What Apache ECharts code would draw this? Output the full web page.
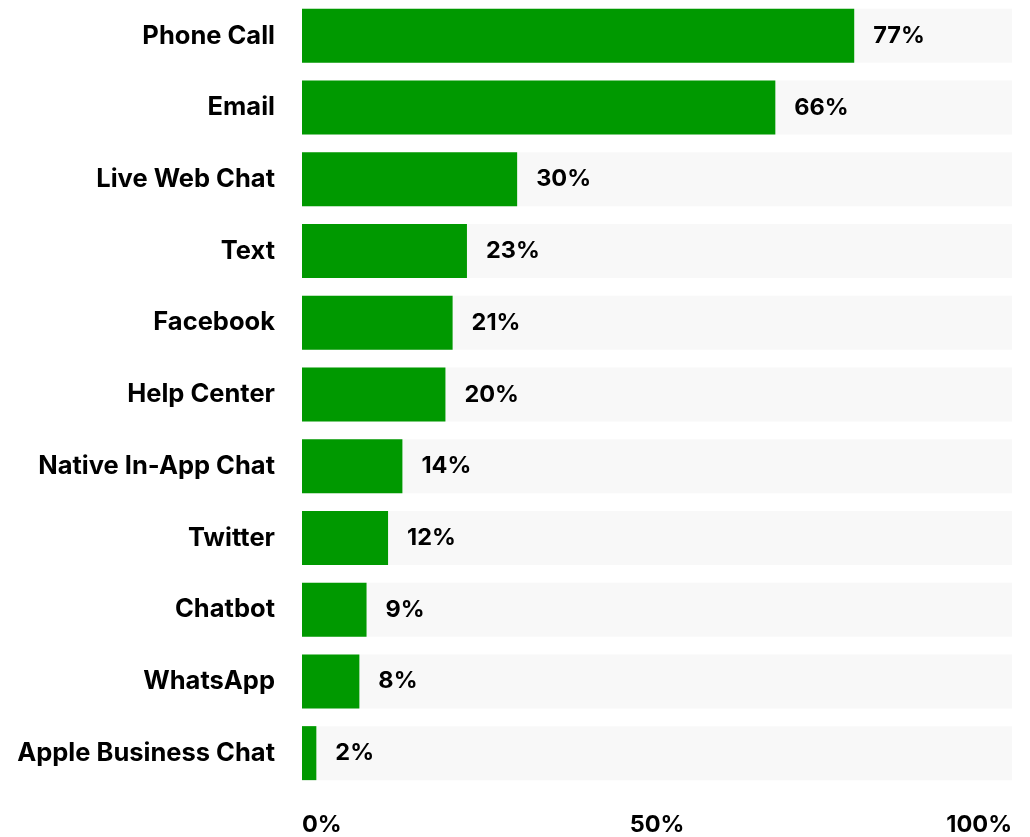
<!DOCTYPE html>
<html>
<head>
<meta charset="utf-8">
<script src="https://cdn.jsdelivr.net/npm/echarts@6/dist/echarts.min.js"></script>
<style>
html,body{margin:0;padding:0;background:#fff;}
#chart{width:1030px;height:837px;}
</style>
</head>
<body>
<div id="chart"></div>
<script>
const categories = ["Phone Call","Email","Live Web Chat","Text","Facebook","Help Center","Native In-App Chat","Twitter","Chatbot","WhatsApp","Apple Business Chat"];
const values = [77,66,30,23,21,20,14,12,9,8,2];
const tickLabels = ["0%","50%","100%"];

const FONT = 'Inter';
const chart = echarts.init(document.getElementById('chart'));
chart.setOption({
  animation:false,
  grid:{left:302,right:18,top:-1,height:792,containLabel:false},
  xAxis:[
    {type:'value',min:0,max:99,show:false},
    {type:'value',min:0,max:100,interval:50,position:'bottom',
     axisLine:{show:false},axisTick:{show:false},splitLine:{show:false},
     axisLabel:{margin:24,fontFamily:FONT,fontWeight:700,fontSize:23.5,color:'#000',
       alignMinLabel:'left',alignMaxLabel:'right',
       formatter:(v)=>tickLabels[Math.round(v/50)]}}
  ],
  yAxis:{type:'category',data:categories,inverse:true,
    axisLine:{show:false},axisTick:{show:false},splitLine:{show:false},
    axisLabel:{margin:27,fontFamily:FONT,fontWeight:700,fontSize:25.5,color:'#000'}},
  series:[{
    type:'bar',xAxisIndex:0,data:values,barWidth:54,
    itemStyle:{color:'#009900'},
    showBackground:true,backgroundStyle:{color:'#f8f8f8'},
    label:{show:true,position:'right',distance:19,fontFamily:FONT,fontWeight:700,fontSize:23.5,color:'#000',
      formatter:(p)=>p.value+'%'}
  }]
});
</script>
</body>
</html>
